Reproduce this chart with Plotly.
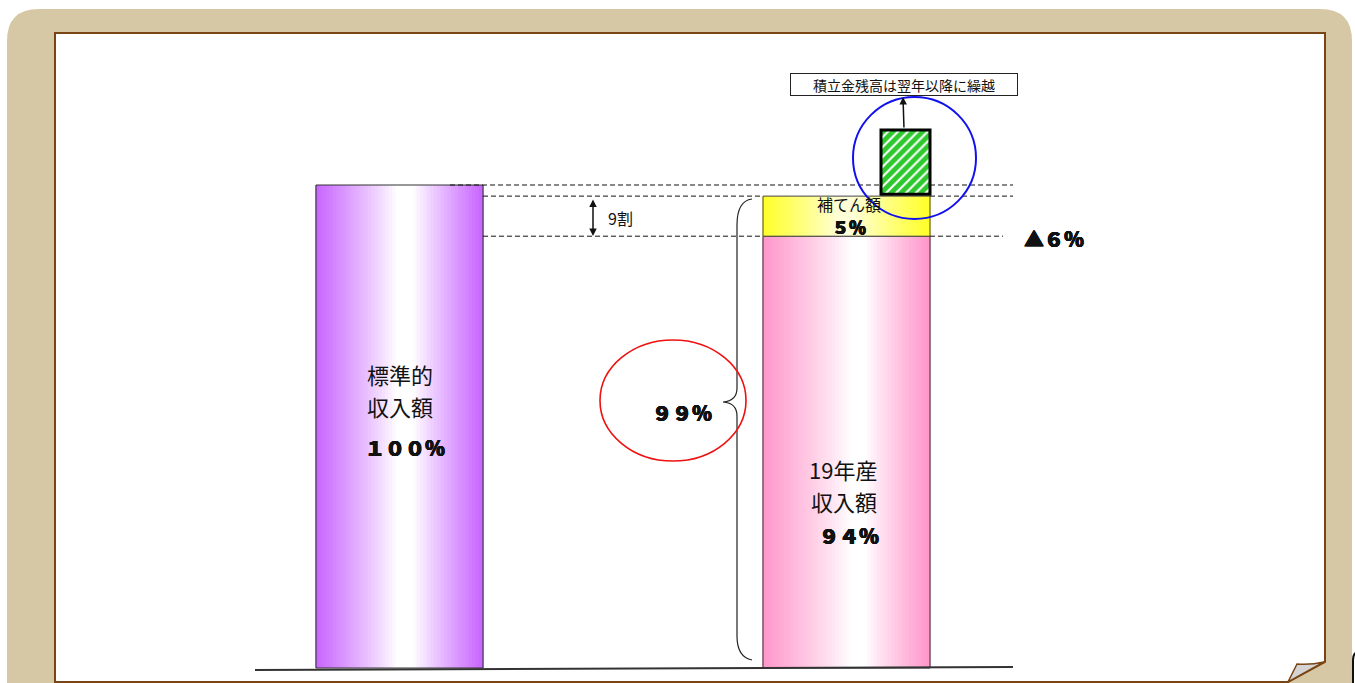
import numpy as np
import plotly.graph_objects as go

# ---------------- data ----------------
categories = ["標準的収入額", "19年産収入額"]
standard_height = [100.0]          # 標準的収入額 (drawn height)
income_height = [89.4]             # 19年産収入額 (drawn height)
subsidy_height = [8.3]             # 補てん額 (drawn height, stacked on income)
reserve_bottom = [98.1]            # 積立金 box bottom
reserve_height = [13.3]            # 積立金 box height
standard_label = ["標準的", "収入額", "１００％"]
income_label = ["19年産", "収入額", "９４％"]
subsidy_label = ["補てん額", "５％"]
gap_label = "▲６％"
covered_label = "９９％"
ratio_label = "9割"
note_label = "積立金残高は翌年以降に繰越"

# ---------------- geometry / styling helpers ----------------
W, H = 1355, 683
PX_PER_UNIT = 4.83
BASE_PY = 668
FONT = "Noto Sans CJK JP"
BOLD_SHADOW = "0.6px 0 0 #111, -0.6px 0 0 #111, 0 0.4px 0 #111, 0 -0.4px 0 #111"


def Y(py):
    return (BASE_PY - py) / PX_PER_UNIT


def to_paper_path(cmds):
    out = []
    for c in cmds:
        op, vals = c[0], c[1:]
        pts = []
        for i in range(0, len(vals), 2):
            pts.append(f"{vals[i] / W:.5f},{1 - vals[i + 1] / H:.5f}")
        out.append(op + " " + " ".join(pts))
    return " ".join(out)


def gradient(edge, center, n, peak=0.5, plateau=0.12, power=1.0):
    cols = []
    for i in range(n):
        t = (i + 0.5) / n
        d = abs(t - peak) / (peak if t < peak else 1 - peak)
        s = np.clip((d - plateau) / (1 - plateau), 0, 1) ** power
        c = [center[k] * (1 - s) + edge[k] * s for k in range(3)]
        cols.append("rgb(%d,%d,%d)" % tuple(int(round(v)) for v in c))
    return cols


bar_x = {"standard": 399.5, "income": 846.5}
bar_w = 167
N = 48


def strips(xc, width):
    w = width / N
    xs = [xc - width / 2 + (i + 0.5) * w for i in range(N)]
    return xs, w


fig = go.Figure()

# dashed guide lines (scatter, drawn above bars)
lvl_top = income_height[0] + subsidy_height[0]
fig.add_trace(go.Scatter(
    x=[450, 881, None, 930, 1013, None, 483, 763, None, 930, 1013, None, 483, 763, None, 930, 1003],
    y=[standard_height[0]] * 2 + [None] + [standard_height[0]] * 2 + [None]
      + [lvl_top] * 2 + [None] + [lvl_top] * 2 + [None]
      + [income_height[0]] * 2 + [None] + [income_height[0]] * 2,
    mode="lines", line=dict(color="#111", width=1, dash="5px,3px"),
    hoverinfo="skip", showlegend=False))

# baseline
fig.add_trace(go.Scatter(x=[255, 1013], y=[Y(670), Y(667)], mode="lines",
                         line=dict(color="#333", width=1.8), hoverinfo="skip", showlegend=False))

# standard income bar (purple gradient)
xs, w = strips(bar_x["standard"], bar_w)
fig.add_trace(go.Bar(x=xs, y=standard_height * N, width=[w * 1.35] * N,
                     marker=dict(color=gradient((200, 100, 255), (255, 255, 255), N, peak=0.54, plateau=0.1, power=0.9),
                                 line=dict(width=0)),
                     hoverinfo="skip", showlegend=False, name=categories[0]))
fig.add_trace(go.Bar(x=[bar_x["standard"]], y=standard_height, width=[bar_w],
                     marker=dict(color="rgba(0,0,0,0)", line=dict(color="#333", width=1)),
                     hoverinfo="skip", showlegend=False))

# 19年産 income (pink gradient)
xs, w = strips(bar_x["income"], bar_w)
fig.add_trace(go.Bar(x=xs, y=income_height * N, width=[w * 1.35] * N,
                     marker=dict(color=gradient((255, 150, 202), (255, 255, 255), N, peak=0.58, plateau=0.08, power=0.9),
                                 line=dict(width=0)),
                     hoverinfo="skip", showlegend=False, name=categories[1]))
fig.add_trace(go.Bar(x=[bar_x["income"]], y=income_height, width=[bar_w],
                     marker=dict(color="rgba(0,0,0,0)", line=dict(color="#333", width=1)),
                     hoverinfo="skip", showlegend=False))

# subsidy (yellow gradient) stacked on income
fig.add_trace(go.Bar(x=xs, y=subsidy_height * N, base=income_height * N, width=[w * 1.35] * N,
                     marker=dict(color=gradient((255, 255, 40), (255, 255, 215), N, peak=0.5, plateau=0.1, power=0.9),
                                 line=dict(width=0)),
                     hoverinfo="skip", showlegend=False))
fig.add_trace(go.Bar(x=[bar_x["income"]], y=subsidy_height, base=income_height, width=[bar_w],
                     marker=dict(color="rgba(0,0,0,0)", line=dict(color="#444", width=1)),
                     hoverinfo="skip", showlegend=False))

# reserve box (green hatched)
fig.add_trace(go.Bar(x=[905.5], y=reserve_height, base=reserve_bottom, width=[49],
                     marker=dict(color="#2CC82C", opacity=1,
                                 pattern=dict(shape="/", fgcolor="white", bgcolor="#2CC82C", fgopacity=1,
                                              size=7, solidity=0.3),
                                 line=dict(color="black", width=3)),
                     hoverinfo="skip", showlegend=False))

# ---------------- shapes ----------------
shapes = []
# beige frame
shapes.append(dict(type="path", xref="paper", yref="paper", layer="below",
                   path=to_paper_path([("M", 7, 720), ("L", 7, 41), ("Q", 7, 9, 39, 9), ("L", 1320, 9),
                                       ("Q", 1352, 9, 1352, 41), ("L", 1352, 720), ("Z",)]),
                   fillcolor="#D6C8A4", line=dict(width=0)))
# white panel with brown border
shapes.append(dict(type="path", xref="paper", yref="paper", layer="below",
                   path=to_paper_path([("M", 55, 33), ("L", 1325, 33), ("L", 1325, 662), ("L", 1288, 682),
                                       ("L", 55, 682), ("Z",)]),
                   fillcolor="white", line=dict(color="#7A4514", width=2)))
# page curl
shapes.append(dict(type="path", xref="paper", yref="paper", layer="above",
                   path=to_paper_path([("M", 1297, 664), ("Q", 1311, 665, 1324, 662), ("L", 1288, 682),
                                       ("Q", 1293, 672, 1297, 664), ("Z",)]),
                   fillcolor="#D4D4D4", line=dict(color="#7A4514", width=1.5)))
# dark rounded element at far right
shapes.append(dict(type="path", xref="paper", yref="paper", layer="above",
                   path=to_paper_path([("M", 1353, 690), ("L", 1353, 660), ("Q", 1353, 652, 1360, 651)]),
                   line=dict(color="#111", width=2)))
# brace
shapes.append(dict(type="path", xref="paper", yref="paper", layer="above",
                   path=to_paper_path([("M", 752, 199), ("Q", 737, 201, 737, 225), ("L", 737, 388),
                                       ("Q", 737, 401, 723, 402), ("Q", 737, 403, 737, 416),
                                       ("L", 737, 636), ("Q", 737, 657, 752, 660)]),
                   line=dict(color="#222", width=1.2)))
# red ellipse
shapes.append(dict(type="circle", xref="x", yref="y", x0=600, x1=746, y0=Y(461), y1=Y(340),
                   line=dict(color="#EE1111", width=1.6), layer="above"))
# blue circle
shapes.append(dict(type="circle", xref="x", yref="y", x0=853, x1=976, y0=Y(219), y1=Y(97),
                   line=dict(color="#1111EE", width=2), layer="above"))

# ---------------- annotations ----------------
ann = []


def txt(x, py, s, size, bold=False, **kw):
    f = dict(family=FONT, size=size, color="#111", weight=900 if bold else 400)
    if bold:
        f["shadow"] = BOLD_SHADOW
    ann.append(dict(x=x, y=Y(py), xref="x", yref="y", text=s,
                    showarrow=False, xanchor="center", yanchor="middle", font=f, **kw))


txt(400, 374, standard_label[0], 22)
txt(400, 406, standard_label[1], 22)
txt(405, 447, standard_label[2], 20, bold=True)
txt(843, 469, income_label[0], 22)
txt(844, 501, income_label[1], 22)
txt(849, 535, income_label[2], 20, bold=True)
txt(849, 204, subsidy_label[0], 16)
txt(849, 226, subsidy_label[1], 17, bold=True)
txt(1054, 238, gap_label, 20, bold=True)
txt(682, 412, covered_label, 20, bold=True)
txt(620, 218, ratio_label, 16)

# note box
ann.append(dict(x=903.5, y=Y(84), xref="x", yref="y", text=note_label, showarrow=False,
                xanchor="center", yanchor="middle", width=224, height=19,
                bordercolor="#222", borderwidth=1, borderpad=1, bgcolor="white",
                font=dict(family=FONT, size=14, color="#111")))
# arrow from box to note
ann.append(dict(x=903, y=Y(97), ax=904, ay=Y(129), xref="x", yref="y", axref="x", ayref="y",
                text="", showarrow=True, arrowhead=2, arrowsize=1, arrowwidth=1.5, arrowcolor="#111",
                standoff=0, startstandoff=0))
# 9割 double arrow
ann.append(dict(x=593, y=Y(236), ax=593, ay=Y(198), xref="x", yref="y", axref="x", ayref="y",
                text="", showarrow=True, arrowhead=2, startarrowhead=2, arrowside="end+start",
                arrowsize=1, startarrowsize=1, arrowwidth=1.5, arrowcolor="#111",
                standoff=0, startstandoff=0))

fig.update_layout(
    width=W, height=H, margin=dict(l=0, r=0, t=0, b=0),
    paper_bgcolor="white", plot_bgcolor="rgba(0,0,0,0)",
    barmode="overlay", showlegend=False,
    xaxis=dict(range=[0, W], visible=False, fixedrange=True),
    yaxis=dict(range=[Y(H), Y(0)], visible=False, fixedrange=True),
    shapes=shapes, annotations=ann,
    font=dict(family=FONT),
)

fig.write_html("out.html", config={"displayModeBar": False, "staticPlot": True},
               post_script="document.body.style.margin='0';document.body.style.overflow='hidden';")
